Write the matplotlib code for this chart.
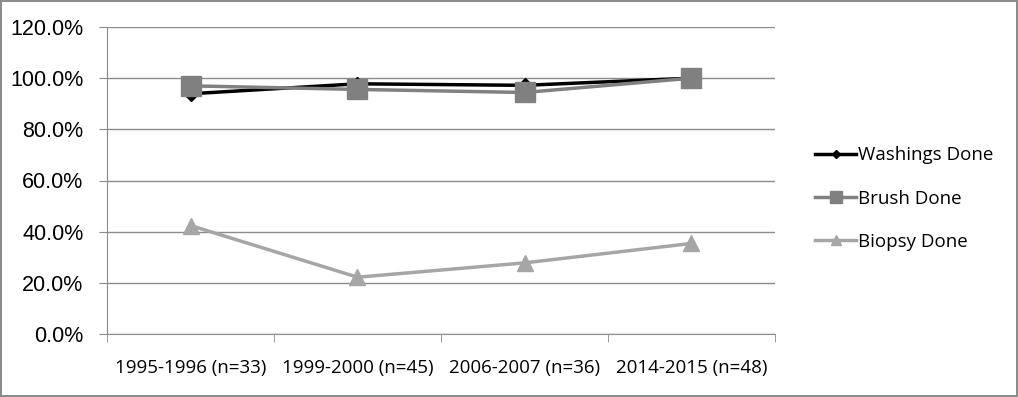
import matplotlib

matplotlib.use("Agg")
import matplotlib.pyplot as plt  # noqa: E402
from matplotlib.ticker import FixedLocator, FuncFormatter  # noqa: E402

# values in percent
periods = ["1995-1996 (n=33)", "1999-2000 (n=45)", "2006-2007 (n=36)", "2014-2015 (n=48)"]
washings = [93.9, 97.8, 97.2, 100.0]
brush = [97.0, 95.6, 94.4, 100.0]
biopsy = [42.4, 22.2, 27.8, 35.4]

fig = plt.figure(figsize=(10.18, 3.97), dpi=100)
fig.patch.set_edgecolor("#8c8c8c")
fig.patch.set_linewidth(1.5)
ax = fig.add_axes([107 / 1018, 63 / 397, 668 / 1018, 307 / 397])

x = [i + 0.5 for i in range(len(periods))]
# brush squares sit on top of the washings line, as in the original
ax.plot(x, washings, color="black", lw=2.5, marker="D", ms=7, label="Washings Done", zorder=3)
ax.plot(x, brush, color="#808080", lw=2.5, marker="s", ms=15, label="Brush Done", zorder=4)
ax.plot(x, biopsy, color="#a6a6a6", lw=2.5, marker="^", ms=12, label="Biopsy Done", zorder=3)

ax.set_xlim(0, len(periods))
ax.set_ylim(0, 120)
ax.set_yticks(range(0, 121, 20))
ax.yaxis.set_major_formatter(FuncFormatter(lambda v, _: f"{v:.1f}%"))
ax.grid(axis="y", color="#8c8c8c", lw=1)
ax.set_axisbelow(True)

ax.set_xticks(x)
ax.set_xticklabels(periods, fontsize=13.5, family="Open Sans")
ax.xaxis.set_minor_locator(FixedLocator(range(len(periods) + 1)))
ax.tick_params(axis="x", which="major", length=0, pad=18)
ax.tick_params(axis="x", which="minor", length=6, color="#8c8c8c")
ax.tick_params(axis="y", length=6, color="#8c8c8c", labelsize=15.5, pad=11)
for lab in ax.get_yticklabels():
    lab.set_family("Liberation Sans")

for side in ["top", "right"]:
    ax.spines[side].set_visible(False)
for side in ["left", "bottom"]:
    ax.spines[side].set_color("#8c8c8c")

fig.legend(loc="center left", bbox_to_anchor=(798 / 1018, 0.5), frameon=False,
           prop={"family": "Open Sans", "size": 13.5}, labelspacing=1.35,
           handlelength=2.2, handletextpad=0.1, markerscale=0.6)

fig.savefig("out.png", dpi=100)
